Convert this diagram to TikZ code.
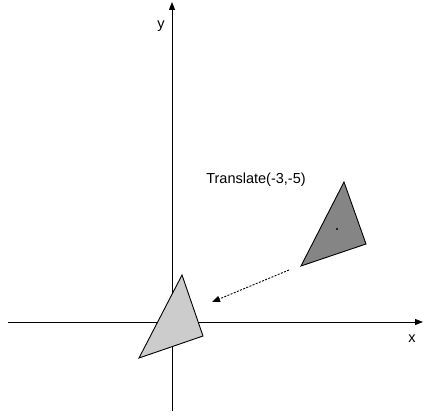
\documentclass[tikz,border=0pt]{standalone}
\usepackage{fontspec}
\setmainfont{Liberation Sans}
\usetikzlibrary{arrows.meta}
\definecolor{trilight}{HTML}{cccccc}
\definecolor{tridark}{HTML}{858585}
\begin{document}
\begin{tikzpicture}[
    x=1pt, y=-1pt,
    font=\fontsize{14.5}{17}\selectfont,
    axis/.style={line width=1pt, draw=black, -{Triangle[length=8pt, width=6pt]}},
    tri/.style={line width=0.9pt, draw=black, line join=miter},
    mv/.style={line width=0.9pt, draw=black, dash pattern=on 2pt off 1.4pt, -{Triangle[length=8pt, width=6pt]}}
  ]
  \useasboundingbox (0,0) rectangle (425,419);

  % axes
  \coordinate (xs) at (8, 322);
  \coordinate (xe) at (423, 322);
  \coordinate (ys) at (172, 411);
  \coordinate (ye) at (172, 2);
  \draw[axis] (xs) -- (xe);
  \draw[axis] (ys) -- (ye);
  \node (xl) at (412, 339) {x};
  \node (yl) at (161, 26) {y};

  % triangles
  \coordinate (a1) at (344, 182);
  \coordinate (a2) at (301, 266);
  \coordinate (a3) at (366, 244);
  \draw[tri, fill=tridark] (a1) -- (a2) -- (a3) -- cycle;
  \fill (337, 229) circle (1.1pt);

  \coordinate (b1) at (182, 275);
  \coordinate (b2) at (139, 358);
  \coordinate (b3) at (203, 336);
  \draw[tri, fill=trilight] (b1) -- (b2) -- (b3) -- cycle;

  % translation
  \node (lbl) at (256, 180) {Translate(-3,-5)};
  \coordinate (mvs) at (289, 270);
  \coordinate (mve) at (212, 302);
  \draw[mv] (mvs) -- (mve);
\end{tikzpicture}
\end{document}
